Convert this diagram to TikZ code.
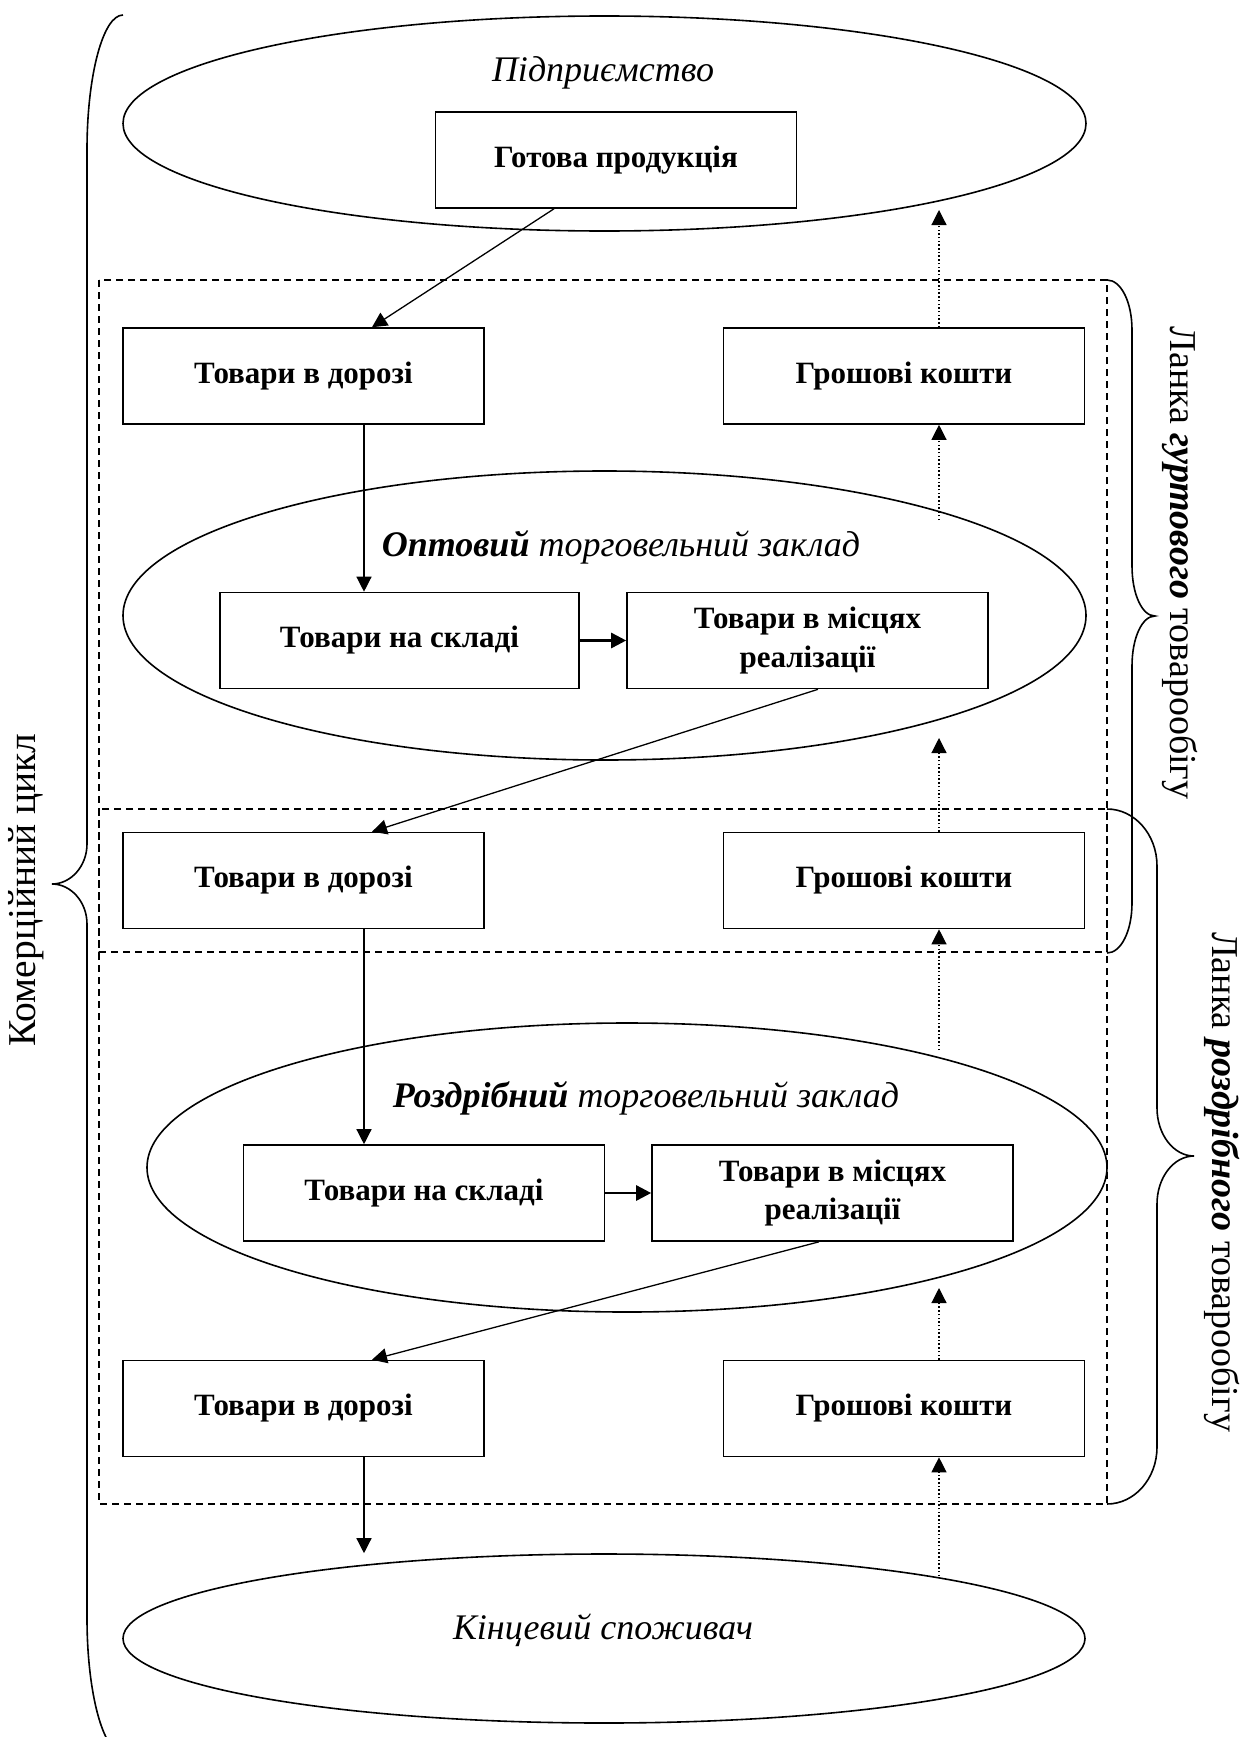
\documentclass[tikz,border=0pt]{standalone}
\usepackage{fontspec}
\setmainfont{Liberation Serif}
\usetikzlibrary{arrows.meta,shapes.geometric}
\begin{document}
\begin{tikzpicture}[x=1pt,y=-1pt,
  goodsbox/.style={draw, line width=1.6pt, minimum width=361pt, minimum height=96pt,
    inner sep=0pt, align=center, font=\fontsize{31}{38}\selectfont\bfseries},
  place/.style={draw, ellipse, line width=1.6pt, inner sep=0pt},
  flow/.style={line width=1.3pt, -{Triangle[length=15pt,width=15pt]}},
  boldflow/.style={line width=2.6pt, -{Triangle[length=15pt,width=15pt]}},
  money/.style={line width=1.2pt, dash pattern=on 1.5pt off 2.2pt, -{Triangle[length=15pt,width=15pt]}},
  zone/.style={line width=1.6pt, dash pattern=on 7pt off 5pt},
  brace/.style={line width=1.6pt},
  itlabel/.style={font=\fontsize{36}{43}\selectfont\itshape},
  sidelabel/.style={font=\fontsize{38}{45}\selectfont},
]
\useasboundingbox (0,0) rectangle (1245,1737);

% enterprise, wholesale, retail and consumer areas
\node[place, minimum width=963pt, minimum height=215pt] (ent)  at (604.5,123.5) {};
\node[place, minimum width=963pt, minimum height=289pt] (whs)  at (604.5,615.5) {};
\node[place, minimum width=960pt, minimum height=289pt] (rtl)  at (627,1167.5) {};
\node[place, minimum width=962pt, minimum height=169pt] (cons) at (604,1638.5) {};

\node[itlabel] (entl)  at (603,73)   {Підприємство};
\node[itlabel] (whsl)  at (621,547)  {\textbf{Оптовий} торговельний заклад};
\node[itlabel] (rtll)  at (646,1098) {\textbf{Роздрібний} торговельний заклад};
\node[itlabel] (consl) at (603,1630) {Кінцевий споживач};

% wholesale and retail links
\draw[zone] (99,280) rectangle (1107,952);
\draw[zone] (99,809) rectangle (1107,1504);

% stages of goods and money
\node[goodsbox] (fin) at (616,160)      {Готова продукція};
\node[goodsbox] (d1)  at (303.5,376)    {Товари в дорозі};
\node[goodsbox] (m1)  at (904,376)      {Грошові кошти};
\node[goodsbox, minimum width=359pt] (s1) at (399.5,640.5) {Товари на складі};
\node[goodsbox] (r1)  at (807.5,640.5)  {\raisebox{-5pt}{\shortstack{Товари в місцях\\[7.5pt]реалізації}}};
\node[goodsbox] (d2)  at (303.5,880.5)  {Товари в дорозі};
\node[goodsbox] (m2)  at (904,880.5)    {Грошові кошти};
\node[goodsbox] (s2)  at (424,1193)     {Товари на складі};
\node[goodsbox] (r2)  at (832.5,1193)   {\raisebox{-5pt}{\shortstack{Товари в місцях\\[7.5pt]реалізації}}};
\node[goodsbox] (d3)  at (303.5,1408.5) {Товари в дорозі};
\node[goodsbox] (m3)  at (904,1408.5)   {Грошові кошти};

% flow of goods
\draw[flow] ([xshift=-62pt]fin.south) -- ([xshift=68.5pt]d1.north);
\draw[flow] ([xshift=60.5pt]d1.south) -- ([xshift=-35.5pt]s1.north);
\draw[boldflow] (s1.east) -- (r1.west);
\draw[flow] ([xshift=10.5pt]r1.south) -- ([xshift=68.5pt]d2.north);
\draw[flow] ([xshift=60.5pt]d2.south) -- ([xshift=-60pt]s2.north);
\draw[boldflow] (s2.east) -- (r2.west);
\draw[flow] ([xshift=-13.5pt]r2.south) -- ([xshift=68.5pt]d3.north);
\draw[flow] ([xshift=60.5pt]d3.south) -- ([xshift=-240pt]cons.north);

% flow of money
\coordinate (pay1) at (939,210);
\coordinate (pay2) at (939,520);
\coordinate (pay3) at (939,738);
\coordinate (pay4) at (939,1050);
\coordinate (pay5) at (939,1288);
\coordinate (pay6) at (939,1576);
\draw[money] ([xshift=35pt]m1.north) -- (pay1);
\draw[money] (pay2) -- ([xshift=35pt]m1.south);
\draw[money] ([xshift=35pt]m2.north) -- (pay3);
\draw[money] (pay4) -- ([xshift=35pt]m2.south);
\draw[money] ([xshift=35pt]m3.north) -- (pay5);
\draw[money] (pay6) -- ([xshift=35pt]m3.south);

% braces
\draw[brace] (123,15) .. controls (103,15) and (87,75.5) .. (87,150) -- (87,844)
  .. controls (87,866) and (71,884) .. (52,884)
  .. controls (71,884) and (87,902) .. (87,924) -- (87,1618)
  .. controls (87,1692.5) and (103,1753) .. (123,1753);
\draw[brace] (1107,280) .. controls (1121,280) and (1132,302) .. (1132,330) -- (1132,566)
  .. controls (1132,594) and (1142,616) .. (1155,616)
  .. controls (1142,616) and (1132,638) .. (1132,666) -- (1132,903)
  .. controls (1132,931) and (1121,953) .. (1107,953);
\draw[brace] (1107,809) .. controls (1134.6,809) and (1157,834.5) .. (1157,866) -- (1157,1108)
  .. controls (1157,1134.5) and (1173.6,1156) .. (1194,1156)
  .. controls (1173.6,1156) and (1157,1177.5) .. (1157,1204) -- (1157,1447)
  .. controls (1157,1478.5) and (1134.6,1504) .. (1107,1504);

\node[sidelabel, rotate=90, font=\fontsize{39.5}{47}\selectfont] (cycle) at (26,890) {Комерційний цикл};
\node[sidelabel, rotate=-90] (wlink) at (1180,563)  {Ланка \textbf{\textit{гуртового}} товарообігу};
\node[sidelabel, rotate=-90] (rlink) at (1222,1182) {Ланка \textbf{\textit{роздрібного}} товарообігу};
\end{tikzpicture}
\end{document}
